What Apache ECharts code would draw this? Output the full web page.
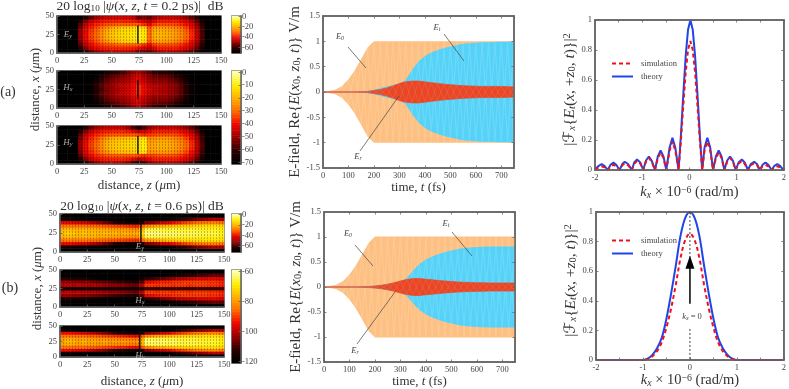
<!DOCTYPE html>
<html><head><meta charset="utf-8">
<style>html,body{margin:0;padding:0;background:#fff}#c{width:789px;height:389px}</style>
<script src="https://cdn.jsdelivr.net/npm/echarts@6/dist/echarts.min.js"></script>
</head><body><div id="c"></div>
<script>
// ---------- data ----------
const zCols=[0,5,10,15,20,25,30,35,40,45,50,55,60,65,70,75,80,85,90,95,100,105,110,115,120,125,130,135,140,145,150];
const xRows=[0,5,10,15,20,25,30,35,40,45,50];
// half rows: distance from the x = 25 centre line 0,5,10,15,20,25 (dB)
const eyA=[
[-70,-70,-70,-70,-50,-40,-34,-30,-25,-20,-17,-15,-13,-12,-11,-8,-11,-30,-20,-19,-20,-21,-23,-26,-30,-36,-45,-57,-70,-70,-70],
[-70,-70,-70,-70,-51,-41,-35,-31,-26,-21,-18,-16,-14,-13,-12,-9,-12,-30,-21,-20,-21,-22,-24,-27,-31,-37,-46,-58,-70,-70,-70],
[-70,-70,-70,-70,-53,-43,-37,-33,-29,-25,-21,-19,-16,-15,-14,-11,-14,-32,-24,-23,-24,-25,-27,-30,-34,-40,-48,-59,-70,-70,-70],
[-70,-70,-70,-70,-56,-46,-40,-37,-35,-33,-32,-31,-31,-31,-31,-32,-36,-40,-35,-33,-33,-33,-34,-36,-39,-43,-51,-61,-70,-70,-70],
[-70,-70,-70,-70,-62,-52,-45,-41,-39,-38,-37,-37,-37,-37,-38,-40,-44,-47,-41,-38,-38,-38,-38,-40,-43,-48,-55,-65,-70,-70,-70],
[-70,-70,-70,-70,-70,-62,-55,-50,-47,-45,-44,-44,-44,-44,-46,-55,-52,-55,-50,-46,-45,-45,-46,-48,-51,-56,-62,-70,-70,-70,-70]];
const hxA=[
[-70,-70,-70,-70,-70,-70,-68,-64,-58,-53,-50,-48,-46,-44,-40,-36,-40,-44,-46,-48,-48,-50,-52,-56,-62,-68,-70,-70,-70,-70,-70],
[-70,-70,-70,-70,-70,-70,-68,-62,-56,-52,-50,-47,-45,-44,-40,-36,-41,-45,-46,-47,-48,-50,-52,-56,-62,-68,-70,-70,-70,-70,-70],
[-70,-70,-70,-70,-70,-70,-69,-64,-58,-54,-51,-49,-48,-46,-42,-40,-44,-48,-50,-50,-50,-52,-54,-58,-64,-69,-70,-70,-70,-70,-70],
[-70,-70,-70,-70,-70,-70,-70,-66,-60,-56,-53,-51,-50,-48,-44,-42,-46,-50,-52,-52,-52,-54,-57,-60,-66,-70,-70,-70,-70,-70,-70],
[-70,-70,-70,-70,-70,-70,-70,-68,-63,-59,-56,-54,-52,-50,-46,-44,-48,-52,-54,-55,-55,-57,-60,-64,-68,-70,-70,-70,-70,-70,-70],
[-70,-70,-70,-70,-70,-70,-70,-70,-70,-66,-62,-60,-58,-54,-50,-48,-52,-56,-60,-62,-62,-64,-68,-70,-70,-70,-70,-70,-70,-70,-70]];
const hyA=[
[-70,-70,-70,-70,-50,-40,-34,-30,-25,-20,-17,-16,-15,-14,-13,-12,-9,-22,-21,-20,-20,-21,-23,-26,-30,-36,-45,-57,-70,-70,-70],
[-70,-70,-70,-70,-51,-41,-35,-31,-26,-21,-18,-17,-16,-15,-14,-12,-10,-23,-22,-21,-21,-22,-24,-27,-31,-37,-46,-58,-70,-70,-70],
[-70,-70,-70,-70,-53,-43,-37,-33,-29,-25,-21,-20,-19,-18,-17,-14,-13,-26,-25,-24,-24,-25,-27,-30,-34,-40,-48,-59,-70,-70,-70],
[-70,-70,-70,-70,-56,-46,-40,-37,-35,-33,-32,-32,-32,-32,-32,-34,-36,-35,-34,-33,-33,-33,-34,-36,-39,-43,-51,-61,-70,-70,-70],
[-70,-70,-70,-70,-62,-52,-45,-41,-39,-38,-37,-37,-37,-38,-41,-46,-44,-41,-38,-38,-38,-38,-38,-40,-43,-48,-55,-65,-70,-70,-70],
[-70,-70,-70,-70,-70,-62,-55,-50,-47,-45,-45,-45,-46,-50,-57,-64,-57,-50,-47,-46,-45,-45,-46,-48,-51,-56,-62,-70,-70,-70,-70]];
const eyB=[
[-18,-15,-17,-19,-17,-19,-18,-20,-19,-20,-19,-21,-20,-21,-21,-14,-3,-3,-3,-4,-4,-4,-5,-5,-5,-5,-6,-6,-6,-6,-8],
[-20,-18,-19,-20,-19,-20,-20,-21,-21,-22,-22,-23,-23,-24,-25,-18,-6,-6,-6,-6,-7,-6,-7,-7,-7,-7,-8,-8,-8,-8,-10],
[-28,-27,-28,-28,-28,-29,-29,-30,-31,-32,-33,-34,-35,-36,-37,-30,-24,-22,-20,-19,-17,-16,-15,-14,-14,-13,-13,-12,-12,-12,-13],
[-40,-40,-41,-42,-43,-45,-47,-50,-53,-56,-60,-63,-65,-66,-67,-62,-52,-50,-47,-44,-42,-39,-37,-34,-32,-30,-28,-27,-26,-26,-28],
[-66,-66,-67,-68,-69,-70,-70,-70,-70,-70,-70,-70,-70,-70,-70,-70,-70,-70,-70,-70,-69,-66,-63,-60,-57,-54,-52,-50,-48,-47,-48],
[-70,-70,-70,-70,-70,-70,-70,-70,-70,-70,-70,-70,-70,-70,-70,-70,-70,-70,-70,-70,-70,-70,-70,-70,-70,-70,-70,-70,-70,-70,-70]];
const hxB=[
[-116,-116,-116,-116,-116,-116,-116,-116,-116,-116,-116,-116,-116,-116,-116,-116,-110,-110,-110,-110,-110,-110,-110,-110,-110,-110,-110,-110,-110,-110,-110],
[-100,-99,-100,-99,-100,-101,-100,-101,-102,-103,-103,-104,-105,-106,-107,-100,-90,-90,-91,-90,-90,-91,-90,-90,-91,-90,-90,-90,-91,-91,-92],
[-103,-103,-104,-104,-105,-105,-106,-107,-108,-109,-110,-111,-112,-113,-114,-108,-95,-94,-93,-92,-92,-91,-91,-90,-90,-90,-90,-90,-91,-91,-92],
[-114,-114,-115,-115,-116,-117,-118,-119,-120,-120,-120,-120,-120,-120,-120,-118,-113,-111,-109,-107,-105,-103,-101,-100,-99,-98,-97,-97,-96,-96,-97],
[-120,-120,-120,-120,-120,-120,-120,-120,-120,-120,-120,-120,-120,-120,-120,-120,-120,-120,-120,-120,-119,-118,-117,-115,-113,-112,-110,-109,-108,-107,-108],
[-120,-120,-120,-120,-120,-120,-120,-120,-120,-120,-120,-120,-120,-120,-120,-120,-120,-120,-120,-120,-120,-120,-120,-120,-120,-120,-120,-120,-120,-120,-120]];
const hyB=[
[-78,-76,-77,-79,-77,-79,-78,-79,-78,-80,-79,-80,-80,-81,-81,-76,-63,-63,-63,-64,-64,-64,-65,-65,-65,-65,-66,-66,-66,-66,-68],
[-80,-78,-79,-80,-79,-80,-80,-81,-81,-82,-82,-83,-83,-84,-85,-78,-65,-65,-65,-65,-66,-65,-66,-66,-66,-66,-67,-67,-67,-67,-69],
[-85,-85,-86,-86,-86,-87,-87,-88,-89,-90,-91,-92,-93,-94,-95,-88,-82,-80,-78,-78,-76,-75,-74,-73,-73,-72,-72,-71,-71,-71,-72],
[-94,-94,-95,-96,-97,-99,-101,-103,-105,-108,-111,-114,-116,-117,-118,-114,-104,-102,-100,-98,-96,-93,-91,-89,-87,-85,-84,-83,-82,-82,-84],
[-116,-116,-117,-118,-119,-120,-120,-120,-120,-120,-120,-120,-120,-120,-120,-120,-120,-120,-120,-120,-119,-116,-113,-110,-108,-106,-104,-102,-100,-99,-100],
[-120,-120,-120,-120,-120,-120,-120,-120,-120,-120,-120,-120,-120,-120,-120,-120,-120,-120,-120,-120,-120,-120,-120,-120,-120,-120,-120,-120,-120,-120,-120]];
const bar0to70=[-70,-68,-66,-64,-62,-60,-58,-56,-54,-52,-50,-48,-46,-44,-42,-40,-38,-36,-34,-32,-30,-28,-26,-24,-22,-20,-18,-16,-14,-12,-10,-8,-6,-4,-2,0];
const bar60to120=[-120,-118,-116,-114,-112,-110,-108,-106,-104,-102,-100,-98,-96,-94,-92,-90,-88,-86,-84,-82,-80,-78,-76,-74,-72,-70,-68,-66,-64,-62,-60];
const hotColors=['#000000','#300000','#9a0000','#f00800','#ff6a00','#ffb000','#ffee00','#ffffb0'];

const tFs=[0,25,50,75,100,125,150,175,200,225,250,275,300,325,350,375,400,425,450,475,500,525,550,575,600,625,650,675,700,725,750];
const e0A=[0,.02,.05,.12,.25,.43,.65,.88,1,1,1,1,1,1,1,1,1,1,1,1,1,1,1,1,1,1,1,1,1,1,1];
const etA=[0,0,0,0,0,0,.01,.025,.045,.08,.11,.14,.17,.24,.44,.6,.71,.78,.83,.87,.9,.93,.95,.96,.97,.98,.98,.985,.99,.99,.99];
const erA=[0,0,0,0,0,0,.005,.01,.03,.05,.08,.12,.17,.2,.215,.215,.2,.185,.17,.155,.145,.135,.125,.12,.115,.11,.11,.11,.11,.105,.1];
const e0B=[0,.02,.05,.12,.25,.43,.65,.88,1.01,1.01,1.01,1.01,1.01,1.01,1.01,1.01,1.01,1.01,1.01,1.01,1.01,1.01,1.01,1.01,1.01,1.01,1.01,1.01,1.01,1.01,1.01];
const etB=[0,0,0,0,0,0,.01,.015,.025,.04,.06,.085,.115,.18,.33,.46,.55,.61,.66,.7,.73,.76,.78,.79,.8,.805,.81,.81,.81,.81,.81];
const erB=[0,0,0,0,0,0,.005,.01,.02,.035,.055,.085,.12,.15,.17,.17,.155,.145,.13,.12,.11,.1,.095,.09,.085,.085,.08,.08,.08,.08,.08];

const kA=[-2,-1.98,-1.92,-1.86,-1.8,-1.73,-1.67,-1.61,-1.55,-1.48,-1.42,-1.37,-1.3,-1.22,-1.17,-1.11,-1.04,-.98,-.92,-.86,-.8,-.73,-.67,-.61,-.55,-.49,-.42,-.36,-.3,-.23,-.18,-.13,-.08,-.03,.02,.07,.12,.17,.22,.27,.32,.38,.44,.5,.56,.62,.68,.74,.8,.86,.92,.98,1.04,1.11,1.17,1.24,1.3,1.37,1.43,1.49,1.55,1.61,1.67,1.74,1.8,1.86,1.92,1.99,2];
const theoryA=[.005,0,.028,.04,.028,0,.035,.05,.035,0,.04,.055,.04,0,.05,.07,.05,0,.063,.09,.063,0,.09,.13,.09,0,.15,.215,.15,0,.234,.505,.757,.935,1,.935,.757,.505,.234,0,.15,.215,.15,0,.09,.13,.09,0,.063,.09,.063,0,.05,.07,.05,0,.04,.055,.04,0,.035,.05,.035,0,.028,.04,.028,0,.005];
const simA=[.003,0,.018,.025,.018,0,.025,.035,.025,0,.032,.045,.032,0,.042,.06,.042,0,.056,.08,.056,0,.08,.115,.08,0,.13,.19,.13,0,.2,.43,.65,.8,.86,.8,.65,.43,.2,0,.13,.19,.13,0,.08,.115,.08,0,.056,.08,.056,0,.042,.06,.042,0,.032,.045,.032,0,.025,.035,.025,0,.018,.025,.018,0,.003];
const kB=[-2,-1.5,-1.2,-1,-.9,-.8,-.7,-.6,-.5,-.4,-.3,-.2,-.1,0,.1,.2,.3,.4,.5,.6,.7,.8,.9,1,1.2,1.5,2];
const theoryB=[0,0,0,0,.01,.035,.08,.15,.28,.45,.64,.84,.96,1,.96,.84,.64,.45,.28,.15,.08,.035,.01,0,0,0,0];
const simB=[0,0,0,0,.008,.025,.06,.12,.22,.35,.51,.69,.81,.855,.81,.69,.51,.35,.22,.12,.06,.025,.008,0,0,0,0];

// ---------- helpers ----------
const FF='"Liberation Serif","DejaVu Serif",serif';
const INK='#333', FRAME='#666';
const rich=s=>({
  i:{fontFamily:FF,fontSize:s,fontStyle:'italic',color:INK},
  s:{fontFamily:FF,fontSize:s*.68,fontStyle:'italic',color:INK,verticalAlign:'bottom'},
  n:{fontFamily:FF,fontSize:s*.68,color:INK,verticalAlign:'bottom'},
  u:{fontFamily:FF,fontSize:s*.68,color:INK,verticalAlign:'top'},
  f:{fontFamily:'"DejaVu Sans"',fontSize:s,color:INK}
});
const opt={animation:false,backgroundColor:'#fff',title:[],grid:[],xAxis:[],yAxis:[],series:[],visualMap:[],legend:[],graphic:{elements:[]}};
const fmtTick=v=>String(Math.round(v*10)/10);
function axisBase(){return{z:5,axisLine:{show:true,onZero:false,lineStyle:{color:FRAME,width:1.5}},axisTick:{show:true,inside:true,length:2.5,lineStyle:{color:FRAME,width:.8}},splitLine:{show:false},axisLabel:{show:true,color:'#444',fontFamily:FF,fontSize:8.5,margin:3,formatter:fmtTick},nameTextStyle:{fontFamily:FF,color:INK}};}
function addX(o){opt.xAxis.push(Object.assign(axisBase(),o));return opt.xAxis.length-1;}
function addY(o){opt.yAxis.push(Object.assign(axisBase(),o));return opt.yAxis.length-1;}
function addGrid(l,t,w,h){opt.grid.push({left:l,top:t,width:w,height:h,show:true,borderColor:FRAME,borderWidth:1.5,backgroundColor:'transparent'});return opt.grid.length-1;}
const mirror=h=>[h[5],h[4],h[3],h[2],h[1],h[0],h[1],h[2],h[3],h[4],h[5]];
const stipple={symbol:'rect',symbolSize:1,dashArrayX:[1,2],dashArrayY:[2,1],color:'rgba(0,0,0,0.24)'};
function heatPanel(box,half,vm,nullLine,extra){
  const g=addGrid(...box);
  const vx=addX(Object.assign({gridIndex:g,type:'value',min:0,max:150,interval:25},extra.x||{}));
  const vy=addY(Object.assign({gridIndex:g,type:'value',min:0,max:50,interval:25},extra.y||{}));
  const cx=addX({gridIndex:g,type:'category',data:zCols,show:false,boundaryGap:true});
  const cy=addY({gridIndex:g,type:'category',data:xRows,show:false,boundaryGap:true});
  const rows=mirror(half),data=[];
  rows.forEach((r,yi)=>r.forEach((v,xi)=>data.push([xi,yi,v])));
  opt.series.push({type:'heatmap',xAxisIndex:cx,yAxisIndex:cy,data,progressive:0,z:1,itemStyle:{borderWidth:0,decal:stipple}});
  vm.seriesIndex.push(opt.series.length-1);
  if(nullLine)opt.series.push({type:'line',xAxisIndex:vx,yAxisIndex:vy,data:nullLine,symbol:'none',silent:true,z:3,lineStyle:{color:'#000',width:1.3}});
}
function colorBar(box,levels,vm,major){
  const g=addGrid(...box);
  const cx=addX({gridIndex:g,type:'category',data:['c'],show:false});
  const show=(i,v)=>Number(v)%major===0;
  const cy=addY({gridIndex:g,type:'category',position:'right',data:levels,boundaryGap:true,
    axisTick:{show:true,inside:true,alignWithLabel:true,length:2.5,interval:show,lineStyle:{color:FRAME,width:.8}},
    axisLabel:{show:true,interval:show,color:'#444',fontFamily:FF,fontSize:8.5,margin:1}});
  opt.series.push({type:'heatmap',xAxisIndex:cx,yAxisIndex:cy,data:levels.map((v,i)=>[0,i,v]),z:1,progressive:0});
  vm.seriesIndex.push(opt.series.length-1);
}
function newVM(min,max){const v={type:'continuous',show:false,dimension:2,min,max,seriesIndex:[],inRange:{color:hotColors}};opt.visualMap.push(v);return v;}
function frameMirror(g,xo,yo){
  addX(Object.assign({gridIndex:g,position:'top',axisLabel:{show:false}},xo));
  addY(Object.assign({gridIndex:g,position:'right',axisLabel:{show:false}},yo));
}
function timePanel(box,e0,et,er){
  const g=addGrid(...box);
  const xo={type:'value',min:0,max:750,interval:100},yo={type:'value',min:-1.5,max:1.5,interval:.5};
  const x=addX(Object.assign({gridIndex:g,name:'time, {i|t} (fs)',nameLocation:'middle',nameGap:13,nameTextStyle:{fontFamily:FF,color:INK,fontSize:13,rich:rich(13)}},xo,{axisLabel:Object.assign(axisBase().axisLabel,{showMaxLabel:false})}));
  const y=addY(Object.assign({gridIndex:g,name:'E-field, Re{{i|E}({i|x}{n|0}, {i|z}{n|0}, {i|t})} V/m',nameLocation:'middle',nameGap:15,nameTextStyle:{fontFamily:FF,color:INK,fontSize:15,rich:rich(15)}},yo));
  frameMirror(g,xo,yo);
  const band=(env,col,sign,z,lw)=>({type:'line',xAxisIndex:x,yAxisIndex:y,z,symbol:'none',silent:true,data:env.map((v,i)=>[tFs[i],sign*v]),lineStyle:{width:lw,color:col},itemStyle:{color:col},areaStyle:{color:col,opacity:1}});
  const zig=(env,col,z,op,odd)=>({type:'line',xAxisIndex:x,yAxisIndex:y,z,symbol:'none',silent:true,data:env.map((v,i)=>[tFs[i],(i%2===odd)?v:-v]),lineStyle:{width:1.2,color:col,opacity:op}});
  [[e0,'#fdc082','#ffe3c4',.25,0],[et,'#55d2f8','#b4ecfc',.25,0],[er,'#f0431f','#c87a6e',.4,.7]].forEach((s,i)=>{
    const z=2+i*1.1;
    opt.series.push(band(s[0],s[1],1,z,s[4]),band(s[0],s[1],-1,z,s[4]),zig(s[0],s[2],z+.5,s[3],0),zig(s[0],s[2],z+.5,s[3],1));
  });
}
function specPanel(box,k,th,sm,legendTop,yName,yGap,xGap,smooth){
  const g=addGrid(...box);
  const xo={type:'value',min:-2,max:2,interval:.5},yo={type:'value',min:0,max:1,interval:.2};
  const x=addX(Object.assign({gridIndex:g,name:'{i|k}{s|x} × 10{u|−6} (rad/m)',nameLocation:'middle',nameGap:xGap,nameTextStyle:{fontFamily:FF,color:INK,fontSize:14.5,rich:rich(14.5)}},xo,{axisLabel:Object.assign(axisBase().axisLabel,{formatter:v=>Number.isInteger(v)?String(v):''})}));
  const y=addY(Object.assign({gridIndex:g,name:yName,nameLocation:'middle',nameGap:yGap,nameTextStyle:{fontFamily:FF,color:INK,fontSize:15.5,padding:[0,0,0,11],rich:rich(15.5)}},yo));
  frameMirror(g,xo,yo);
  opt.series.push({name:'theory',type:'line',smooth,xAxisIndex:x,yAxisIndex:y,z:3,symbol:'none',data:k.map((v,i)=>[v,th[i]]),lineStyle:{color:'#1f45e8',width:2},itemStyle:{color:'#1f45e8'}});
  opt.series.push({name:'simulation',type:'line',smooth,xAxisIndex:x,yAxisIndex:y,z:4,symbol:'none',data:k.map((v,i)=>[v,sm[i]]),lineStyle:{color:'#f0101c',width:2,type:[4,3]},itemStyle:{color:'#f0101c'}});
  opt.legend.push({data:['simulation','theory'],orient:'vertical',left:606,top:legendTop,itemWidth:21,itemHeight:8,itemGap:4,selectedMode:false,itemStyle:{opacity:0},textStyle:{fontFamily:FF,fontSize:8.5,color:'#444',padding:[0,0,0,3]}});
  return{x,y};
}
function gText(x,y,text,size,color){opt.graphic.elements.push({type:'text',x,y,z:20,style:{text,fontFamily:FF,fontSize:size,fill:color,align:'center',verticalAlign:'middle'}});}
function gLine(x1,y1,x2,y2){opt.graphic.elements.push({type:'line',z:20,shape:{x1,y1,x2,y2},style:{stroke:'#444',lineWidth:.7}});}
const sym=(a,b)=>`{i|${a}}{s|${b}}`;
function lab(x,y,a,b,c,s){opt.graphic.elements.push({type:'text',x,y,z:20,style:{rich:{i:{fontFamily:FF,fontSize:s,fontStyle:'italic',fill:c},s:{fontFamily:FF,fontSize:s*.7,fontStyle:'italic',fill:c,verticalAlign:'bottom'}},text:sym(a,b),align:'center',verticalAlign:'middle'}});}
const heatLab=(x,y,a,b)=>lab(x,y,a,b,'#aaa',9);
const annLab=(x,y,a,b)=>lab(x,y,a,b,'#444',8.5);

// ---------- left column ----------
const yNameHeat=g=>({name:'distance, {i|x} ({i|μ}m)',nameLocation:'middle',nameGap:g,nameTextStyle:{fontFamily:FF,color:INK,fontSize:13,rich:rich(13)}});
const xNameHeat=g=>({name:'distance, {i|z} ({i|μ}m)',nameLocation:'middle',nameGap:g,nameTextStyle:{fontFamily:FF,color:INK,fontSize:13,rich:rich(13)}});
const nullA1=[[74,13],[74,37]],nullA2=[[74,12],[74,38]],nullA3=[[74,13],[74,37]];
const nullB1=[[74,13],[74,37]],nullB3=[[73,13],[73,37]];
const vmA1=newVM(-70,0),vmA2=newVM(-70,0),vmB1=newVM(-70,0),vmB2=newVM(-120,-60);
heatPanel([57,16,164,37],eyA,vmA1,nullA1,{});
heatPanel([57,71,164,37],hxA,vmA2,nullA2,{y:yNameHeat(14)});
heatPanel([57,126,164,38],hyA,vmA2,nullA3,{x:xNameHeat(15)});
colorBar([232,16,9,37],bar0to70,vmA1,20);
colorBar([232,71,9,93],bar0to70,vmA2,10);
heatPanel([60,214,164,38],eyB,vmB1,nullB1,{});
heatPanel([60,270,164,37],hxB,vmB2,null,{y:yNameHeat(16)});
heatPanel([60,326,164,37],hyB,vmB2,nullB3,{x:xNameHeat(18)});
colorBar([232,214,9,38],bar0to70,vmB1,20);
colorBar([232,270,9,93],bar60to120,vmB2,20);

// ---------- middle / right ----------
timePanel([323,16,191,152],e0A,etA,erA);
timePanel([324,212,191,150],e0B,etB,erB);
const yNameF='|{f|ℱ}{s|x}{{i|E}{s|t}({i|x}, +{i|z}{n|0}, {i|t})}|{u|2}';
specPanel([595,20,189,150],kA,theoryA,simA,54,yNameF,15,15,false);
const pB=specPanel([596,212,190,149],kB,theoryB,simB,231,yNameF,13,13,.35);
// dashed k_x = 0 guide and arrow, on the data scale of panel (b)
const guideUpper=[[0,1],[0,.62]],guideLower=[[0,.21],[0,0]],arrowPath=[[0,.38],[0,.66]];
const guide=d=>({type:'line',xAxisIndex:pB.x,yAxisIndex:pB.y,z:6,symbol:'none',silent:true,data:d,lineStyle:{color:'#111',width:.8,type:[2,2]}});
opt.series.push(guide(guideUpper),guide(guideLower));
opt.series.push({type:'line',xAxisIndex:pB.x,yAxisIndex:pB.y,z:6,silent:true,showSymbol:true,symbol:'none',data:arrowPath,lineStyle:{color:'#000',width:1.5},
  markPoint:{silent:true,symbol:'triangle',symbolSize:[9,13],itemStyle:{color:'#000'},label:{show:false},data:[{coord:arrowPath[1]}]}});

// ---------- titles and annotations ----------
const titleStyle={fontFamily:FF,fontSize:13.5,fontWeight:'normal',color:INK,rich:rich(13.5)};
opt.title.push({text:'20 log{n|10} |{i|ψ}({i|x}, {i|z}, {i|t} = 0.2 ps)|  dB',left:140,top:-1,textAlign:'center',textStyle:titleStyle,padding:0});
opt.title.push({text:'20 log{n|10} |{i|ψ}({i|x}, {i|z}, {i|t} = 0.6 ps)| dB',left:142,top:199,textAlign:'center',textStyle:titleStyle,padding:0});
gText(8,92,'(a)',14,INK);gText(10,288,'(b)',14,INK);
heatLab(68,35,'E','y');heatLab(68,88,'H','x');heatLab(68,143,'H','y');
heatLab(140,247,'E','y');heatLab(140,301,'H','x');heatLab(140,356,'H','y');
annLab(340,37,'E','0');annLab(437,28,'E','t');annLab(358,157,'E','r');
annLab(348,234,'E','0');annLab(446,224,'E','t');annLab(355,351,'E','r');
gLine(348,47,366,68);gLine(444,34,464,61);gLine(360,151,399,96);
gLine(355,245,373,266);gLine(452,232,472,256);gLine(357,344,395,292);
opt.graphic.elements.push({type:'text',x:692,y:317,z:20,style:{rich:{i:{fontFamily:FF,fontSize:8.5,fontStyle:'italic',fill:'#444'},s:{fontFamily:FF,fontSize:6,fontStyle:'italic',fill:'#444',verticalAlign:'bottom'},p:{fontFamily:FF,fontSize:8.5,fill:'#444'}},text:'{i|k}{s|x}{p| = 0}',align:'center',verticalAlign:'middle'}});

echarts.init(document.getElementById('c'),null,{renderer:'canvas'}).setOption(opt);
</script></body></html>
